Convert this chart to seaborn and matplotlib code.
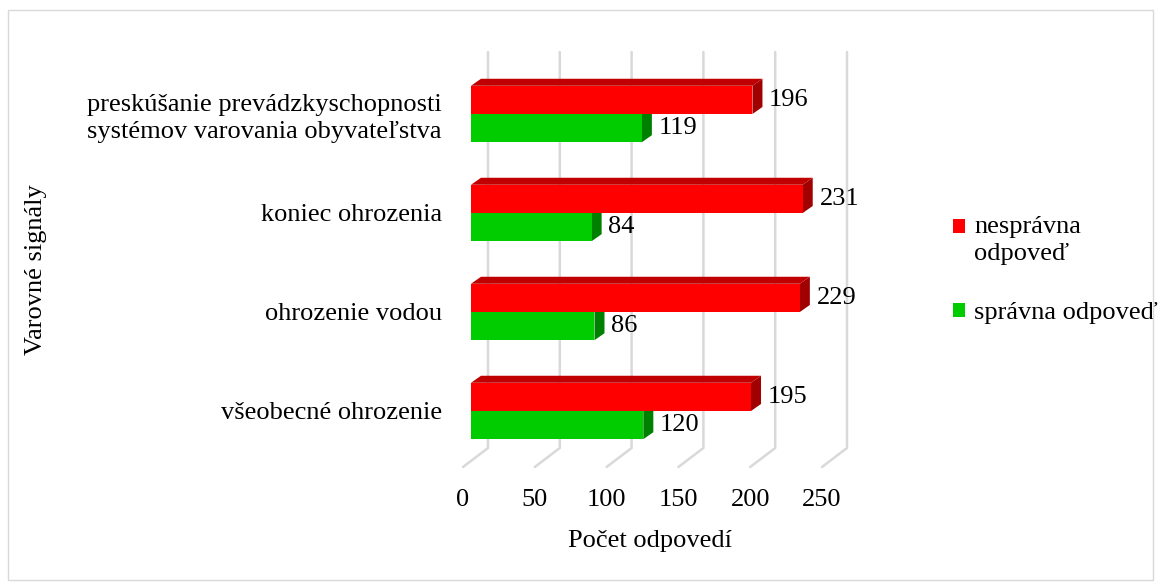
import pandas as pd
import matplotlib
matplotlib.use("Agg")
import matplotlib.pyplot as plt
from matplotlib.patches import Polygon, Rectangle
from matplotlib.lines import Line2D
from matplotlib.transforms import IdentityTransform, ScaledTranslation
import seaborn as sns

# data
categories = [
    "preskúšanie prevádzkyschopnosti\nsystémov varovania obyvateľstva",
    "koniec ohrozenia",
    "ohrozenie vodou",
    "všeobecné ohrozenie",
]
wrong = [196, 231, 229, 195]
right = [119, 84, 86, 120]
series = ["nesprávna\nodpoveď", "správna odpoveď"]
xticks = [0, 50, 100, 150, 200, 250]

colors = ["#FF0000", "#00CC00"]
side_colors = ["#A00000", "#008000"]
top_colors = ["#C00000", "#00A000"]

df = pd.DataFrame({
    "signal": categories * 2,
    "odpoved": [series[0]] * len(wrong) + [series[1]] * len(right),
    "pocet": wrong + right,
})

sns.set_theme(style="white", rc={"text.color": "black", "axes.labelcolor": "black",
                                 "xtick.color": "black", "ytick.color": "black"})
plt.rcParams["font.family"] = ["Liberation Serif", "DejaVu Serif"]
fs = 19

W, H = 1161, 585
fig = plt.figure(figsize=(W / 100, H / 100), dpi=100)
ax = fig.add_axes([471 / W, 1 - 448 / H, 359 / W, 396 / H])

sns.barplot(data=df, y="signal", x="pocet", hue="odpoved", hue_order=series,
            palette=colors, orient="h", width=0.57, saturation=1,
            linewidth=0, zorder=3, ax=ax)

ax.set_xlim(0, 250)
ax.set_ylim(3.374, -0.626)
for s in ax.spines.values():
    s.set_visible(False)
ax.grid(False)

# pseudo-3D faces of the bars (depth offset in pixels)
dx, dy = 10, 7
for k, cont in enumerate(ax.containers):
    for bar in cont:
        (x0, y0), (x1, y1) = ax.transData.transform(
            [(bar.get_x(), bar.get_y()),
             (bar.get_x() + bar.get_width(), bar.get_y() + bar.get_height())])
        yt, yb = max(y0, y1), min(y0, y1)
        side = [(x1, yt), (x1 + dx, yt + dy), (x1 + dx, yb + dy), (x1, yb)]
        top = [(x0, yt), (x1, yt), (x1 + dx, yt + dy), (x0 + dx, yt + dy)]
        ax.add_patch(Polygon(side, closed=True, transform=IdentityTransform(),
                             facecolor=side_colors[k], edgecolor="none",
                             zorder=2, clip_on=False))
        ax.add_patch(Polygon(top, closed=True, transform=IdentityTransform(),
                             facecolor=top_colors[k], edgecolor="none",
                             zorder=2, clip_on=False))

# back-wall gridlines with floor diagonal
ytop = ax.transAxes.transform((0, 1))[1]
ybot = ax.transAxes.transform((0, 0))[1]
for v in xticks:
    xb = ax.transData.transform((v, 0))[0] + 17
    ax.add_line(Line2D([xb, xb, xb - 25], [ytop, ybot, ybot - 19],
                       transform=IdentityTransform(), color="#D9D9D9",
                       lw=1.8, zorder=1, clip_on=False))

for cont in ax.containers:
    ax.bar_label(cont, padding=12, fontsize=fs)

ax.set_xticks(xticks)
ax.set_xticklabels([str(v) for v in xticks])
ax.tick_params(axis="x", length=0, pad=29.5, labelsize=fs)
ax.tick_params(axis="y", length=0, pad=21, labelsize=fs)
shift = ScaledTranslation(-8 / 100, 0, fig.dpi_scale_trans)
for lab in ax.get_xticklabels():
    lab.set_transform(lab.get_transform() + shift)
for lab in ax.get_yticklabels():
    lab.set_linespacing(1.25)

ax.set_xlabel("Počet odpovedí", fontsize=fs, labelpad=14)
ax.set_ylabel("Varovné signály", fontsize=fs)
ax.yaxis.set_label_coords(-1.18, 0.45)

sns.move_legend(ax, "upper left", bbox_to_anchor=(940 / W, 1 - 203 / H),
                bbox_transform=fig.transFigure, frameon=False, title=None,
                fontsize=fs, handlelength=0.45, handleheight=0.45,
                handletextpad=0.35, labelspacing=1.4, borderpad=0)
leg = ax.get_legend()
for t in leg.get_texts():
    t.set_linespacing(1.3)
# put the marker next to the first line of the two-line label
h0 = leg.legend_handles[0]
h0.set_y(h0.get_y() + 10)

fig.add_artist(Rectangle((8 / W, 1 - 580 / H), 1145 / W, 570 / H,
                         transform=fig.transFigure, fill=False,
                         edgecolor="#D9D9D9", lw=1))

fig.savefig("out.png", dpi=100)
